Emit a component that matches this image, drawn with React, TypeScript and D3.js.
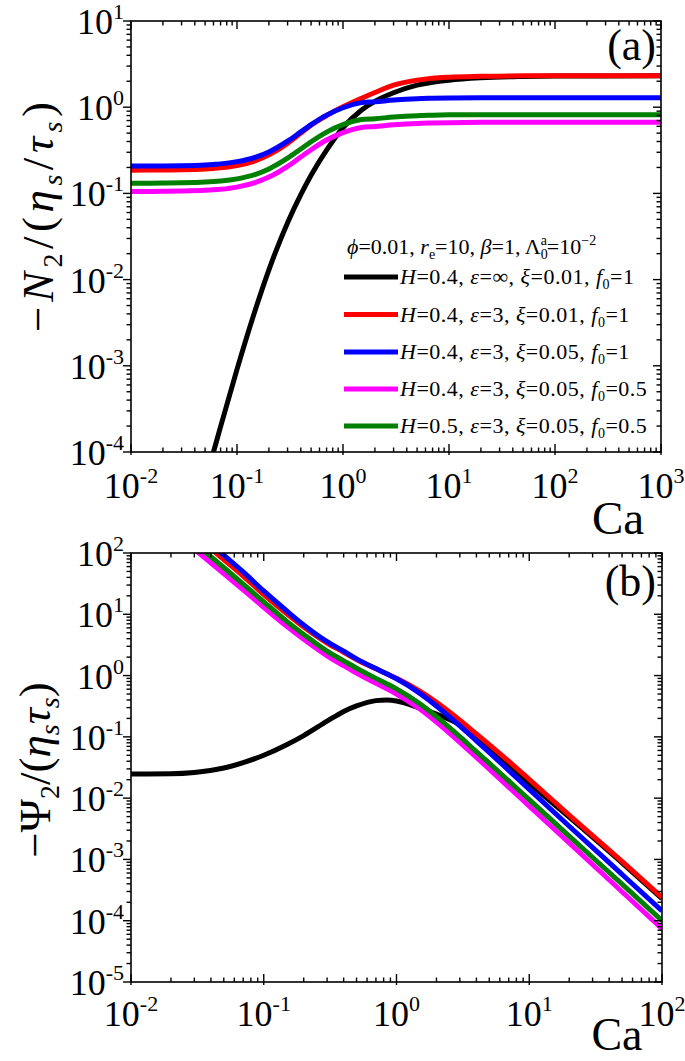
import React from 'react';
import * as d3 from 'd3';

// ---------- Panel (a): -N2/(eta_s/tau_s) vs Ca ----------
const caA = [0.01, 0.02, 0.03, 0.05, 0.06, 0.07, 0.1, 0.15, 0.2, 0.3, 0.4, 0.5, 0.7, 1, 1.5, 2, 3, 5, 7, 10, 20, 50, 100, 1000];
const n2Black = [null, null, null, 4.6e-5, 1.0e-4, 1.97e-4, 9.1e-4, 4.6e-3, 0.013, 0.0458, 0.0968, 0.162, 0.317, 0.58, 0.93, 1.17, 1.47, 1.80, 1.95, 2.06, 2.19, 2.27, 2.30, 2.31];
const n2Red = [0.1862, 0.187, 0.188, 0.192, 0.195, 0.198, 0.21, 0.24, 0.28, 0.38, 0.50, 0.62, 0.80, 1.01, 1.27, 1.48, 1.80, 2.06, 2.17, 2.23, 2.28, 2.31, 2.31, 2.31];
const n2Blue = [0.2074, 0.2082, 0.2097, 0.214, 0.217, 0.22, 0.2335, 0.2636, 0.303, 0.4035, 0.517, 0.627, 0.81, 0.986, 1.13, 1.156, 1.21, 1.256, 1.27, 1.282, 1.29, 1.29, 1.29, 1.29];
const n2Magenta = [0.1052, 0.1057, 0.1064, 0.1085, 0.11, 0.1117, 0.1183, 0.134, 0.1545, 0.206, 0.2645, 0.321, 0.416, 0.508, 0.582, 0.597, 0.625, 0.649, 0.656, 0.662, 0.667, 0.667, 0.667, 0.667];
const n2Green = [0.1312, 0.1318, 0.1326, 0.1353, 0.1372, 0.1393, 0.1475, 0.1667, 0.1923, 0.256, 0.3277, 0.397, 0.514, 0.627, 0.718, 0.735, 0.769, 0.798, 0.807, 0.815, 0.82, 0.82, 0.82, 0.82];

// ---------- Panel (b): -Psi2/(eta_s tau_s) vs Ca ----------
const caB = [0.01, 0.02, 0.03, 0.05, 0.07, 0.1, 0.15, 0.2, 0.3, 0.4, 0.5, 0.7, 0.85, 1, 1.5, 2, 3, 4, 5, 7, 10, 20, 50, 100];
const psiBlack = [0.0248, 0.025, 0.0262, 0.031, 0.038, 0.05, 0.075, 0.105, 0.18, 0.26, 0.32, 0.39, 0.40, 0.385, 0.295, 0.235, 0.158, 0.1, 0.066, 0.034, 0.0175, 4.9e-3, 8.8e-4, 2.3e-4];
const psiRed = [null, null, 197, 78, 42, 21, 10.1, 6.2, 3.4, 2.4, 1.83, 1.29, 1.062, 0.903, 0.555, 0.366, 0.187, 0.1115, 0.0745, 0.040, 0.0203, 5.3e-3, 9.3e-4, 2.4e-4];
const psiBlue = [null, null, 232, 92, 49, 24, 11.2, 6.7, 3.57, 2.5, 1.87, 1.3, 1.06, 0.886, 0.513, 0.319, 0.151, 0.0862, 0.0557, 0.0284, 0.0139, 3.48e-3, 5.7e-4, 1.45e-4];
const psiMagenta = [null, null, 116, 46, 25, 13, 6.3, 3.9, 2.1, 1.45, 1.1, 0.747, 0.604, 0.50, 0.284, 0.174, 0.0813, 0.0461, 0.0297, 0.01515, 7.42e-3, 1.86e-3, 2.97e-4, 7.4e-5];
const psiGreen = [null, null, 146, 58, 31, 16, 7.6, 4.7, 2.5, 1.74, 1.32, 0.90, 0.73, 0.607, 0.347, 0.214, 0.101, 0.0573, 0.0372, 0.0191, 9.45e-3, 2.4e-3, 3.95e-4, 1.0e-4];

// ---------- Legend ----------
const seriesColors = ['#000000', '#ff0000', '#0000ff', '#ff00ff', '#008000'];
const legendH = ['0.4', '0.4', '0.4', '0.4', '0.5'];
const legendEps = ['\u221e', '3', '3', '3', '3'];
const legendXi = ['0.01', '0.01', '0.05', '0.05', '0.05'];
const legendF0 = ['1', '1', '1', '0.5', '0.5'];

// tick exponents
const xExpA = [-2, -1, 0, 1, 2, 3];
const yExpA = [-4, -3, -2, -1, 0, 1];
const xExpB = [-2, -1, 0, 1, 2];
const yExpB = [-5, -4, -3, -2, -1, 0, 1, 2];

const FONT = 'Liberation Serif, Times New Roman, serif';

type Sc = d3.ScaleLogarithmic<number, number>;

function makePath(xs: Sc, ys: Sc, ca: number[], vals: (number | null)[]) {
  const pts: [number, number][] = [];
  ca.forEach((c, i) => {
    const v = vals[i];
    if (v != null) pts.push([c, v]);
  });
  const line = d3
    .line<[number, number]>()
    .x((d) => xs(d[0]))
    .y((d) => ys(d[1]))
    .curve(d3.curveMonotoneX);
  return line(pts) || '';
}

function Frame({ xs, ys, xExp, yExp, xLabelY, id }: { xs: Sc; ys: Sc; xExp: number[]; yExp: number[]; xLabelY: number; id: string }) {
  const [L, R] = xs.range();
  const [B, T] = ys.range();
  const major = 8;
  const minor = 4.5;
  const xMinor: number[] = [];
  for (let e = xExp[0]; e < xExp[xExp.length - 1]; e++) for (let k = 2; k <= 9; k++) xMinor.push(k * Math.pow(10, e));
  const yMinor: number[] = [];
  for (let e = yExp[0]; e < yExp[yExp.length - 1]; e++) for (let k = 2; k <= 9; k++) yMinor.push(k * Math.pow(10, e));
  const segs: React.ReactElement[] = [];
  let n = 0;
  xExp.forEach((e) => {
    const x = xs(Math.pow(10, e));
    segs.push(<line key={id + 's' + n++} x1={x} x2={x} y1={B + 3} y2={B - major} />);
    segs.push(<line key={id + 's' + n++} x1={x} x2={x} y1={T} y2={T + major} />);
  });
  xMinor.forEach((v) => {
    const x = xs(v);
    segs.push(<line key={id + 's' + n++} x1={x} x2={x} y1={B} y2={B - minor} />);
    segs.push(<line key={id + 's' + n++} x1={x} x2={x} y1={T} y2={T + minor} />);
  });
  yExp.forEach((e) => {
    const y = ys(Math.pow(10, e));
    segs.push(<line key={id + 's' + n++} x1={L - major} x2={L} y1={y} y2={y} />);
    segs.push(<line key={id + 's' + n++} x1={R} x2={R - major} y1={y} y2={y} />);
  });
  yMinor.forEach((v) => {
    const y = ys(v);
    segs.push(<line key={id + 's' + n++} x1={L - minor} x2={L} y1={y} y2={y} />);
    segs.push(<line key={id + 's' + n++} x1={R} x2={R - minor} y1={y} y2={y} />);
  });
  return (
    <g>
      <g stroke="#000" strokeWidth={1.4}>{segs}</g>
      <rect x={L} y={T} width={R - L} height={B - T} fill="none" stroke="#000" strokeWidth={1.6} />
      <g fontSize={36} fill="#000">
        {xExp.map((e) => (
          <text key={'xl' + e} x={xs(Math.pow(10, e))} y={xLabelY} textAnchor="middle">
            10<tspan fontSize={22} dy={-15}>{e < 0 ? '-' + -e : String(e)}</tspan>
          </text>
        ))}
        {yExp.map((e) => (
          <text key={'yl' + e} x={124} y={ys(Math.pow(10, e)) + 13} textAnchor="end">
            10<tspan fontSize={22} dy={-15}>{e < 0 ? '-' + -e : String(e)}</tspan>
          </text>
        ))}
      </g>
    </g>
  );
}

export default function App() {
  const xA = d3.scaleLog().domain([1e-2, 1e3]).range([131, 661]);
  const yA = d3.scaleLog().domain([1e-4, 1e1]).range([452, 21]);
  const xB = d3.scaleLog().domain([1e-2, 1e2]).range([131, 662]);
  const yB = d3.scaleLog().domain([1e-5, 1e2]).range([982, 553]);

  const seriesA = [n2Black, n2Red, n2Blue, n2Magenta, n2Green];
  const seriesB = [psiBlack, psiRed, psiBlue, psiMagenta, psiGreen];

  const legendRows = [277, 314.5, 352, 389, 426];

  return (
    <svg width={685} height={1061} style={{ position: 'absolute', left: 0, top: 0, background: '#fff', fontFamily: FONT }}>
      <defs>
        <clipPath id="clipA">
          <rect x={131} y={21} width={530} height={431} />
        </clipPath>
        <clipPath id="clipB">
          <rect x={131} y={553} width={531} height={429} />
        </clipPath>
      </defs>
      <rect x={0} y={0} width={685} height={1061} fill="#fff" />

      {/* Panel (a) curves */}
      <g clipPath="url(#clipA)" fill="none" strokeWidth={5} strokeLinejoin="round">
        {seriesA.map((s, i) => (
          <path key={'a' + i} d={makePath(xA, yA, caA, s)} stroke={seriesColors[i]} />
        ))}
      </g>
      <Frame xs={xA} ys={yA} xExp={xExpA} yExp={yExpA} xLabelY={498} id="A" />

      {/* Panel (b) curves */}
      <g clipPath="url(#clipB)" fill="none" strokeWidth={5} strokeLinejoin="round">
        {seriesB.map((s, i) => (
          <path key={'b' + i} d={makePath(xB, yB, caB, s)} stroke={seriesColors[i]} />
        ))}
      </g>
      <Frame xs={xB} ys={yB} xExp={xExpB} yExp={yExpB} xLabelY={1026} id="B" />

      {/* x-axis titles */}
      <text x={618} y={534} fontSize={47} textAnchor="middle">Ca</text>
      <text x={617} y={1050} fontSize={46} textAnchor="middle">Ca</text>

      {/* panel labels */}
      <text x={656} y={60} fontSize={44} textAnchor="end">(a)</text>
      <text x={656} y={596} fontSize={44} textAnchor="end">(b)</text>

      {/* y-axis titles */}
      <text transform="translate(53,217) rotate(-90)" fontSize={45} textAnchor="middle" textLength={230} lengthAdjust="spacing">
        <tspan>{'\u2212'}</tspan>
        <tspan fontStyle="italic">N</tspan>
        <tspan fontSize={28} dy={9}>2</tspan>
        <tspan dy={-9}>/(</tspan>
        <tspan fontStyle="italic">{'\u03b7'}</tspan>
        <tspan fontSize={28} dy={9} fontStyle="italic">s</tspan>
        <tspan dy={-9}>/</tspan>
        <tspan fontStyle="italic">{'\u03c4'}</tspan>
        <tspan fontSize={28} dy={9} fontStyle="italic">s</tspan>
        <tspan dy={-9}>)</tspan>
      </text>
      <text transform="translate(50,770) rotate(-90)" fontSize={45} textAnchor="middle">
        <tspan>{'\u2212'}</tspan>
        <tspan>{'\u03a8'}</tspan>
        <tspan fontSize={28} dy={9}>2</tspan>
        <tspan dy={-9}>/(</tspan>
        <tspan fontStyle="italic">{'\u03b7'}</tspan>
        <tspan fontSize={28} dy={9} fontStyle="italic">s</tspan>
        <tspan dy={-9} fontStyle="italic">{'\u03c4'}</tspan>
        <tspan fontSize={28} dy={9} fontStyle="italic">s</tspan>
        <tspan dy={-9}>)</tspan>
      </text>

      {/* legend header */}
      <text x={347} y={254} fontSize={22}>
        <tspan fontStyle="italic">{'\u03d5'}</tspan>
        <tspan>{'=0.01, '}</tspan>
        <tspan fontStyle="italic">r</tspan>
        <tspan fontSize={14} dy={5}>e</tspan>
        <tspan dy={-5}>{'=10, '}</tspan>
        <tspan fontStyle="italic">{'\u03b2'}</tspan>
        <tspan>{'=1, \u039b'}</tspan>
        <tspan fontSize={14} dy={5}>0</tspan>
        <tspan fontSize={14} dx={-7} dy={-14}>a</tspan>
        <tspan dy={9}>{'=10'}</tspan>
        <tspan fontSize={14} dy={-9}>{'\u22122'}</tspan>
      </text>

      {/* legend rows */}
      {legendRows.map((y, i) => (
        <g key={'lg' + i}>
          <line x1={344} x2={398} y1={y} y2={y} stroke={seriesColors[i]} strokeWidth={5} />
          <text x={400} y={y + 7} fontSize={22} letterSpacing={0.5}>
            <tspan fontStyle="italic">H</tspan>
            <tspan>{'=' + legendH[i] + ', '}</tspan>
            <tspan fontStyle="italic">{'\u03b5'}</tspan>
            <tspan>{'=' + legendEps[i] + ', '}</tspan>
            <tspan fontStyle="italic">{'\u03be'}</tspan>
            <tspan>{'=' + legendXi[i] + ', '}</tspan>
            <tspan fontStyle="italic">f</tspan>
            <tspan fontSize={14} dy={5}>0</tspan>
            <tspan dy={-5}>{'=' + legendF0[i]}</tspan>
          </text>
        </g>
      ))}
    </svg>
  );
}
